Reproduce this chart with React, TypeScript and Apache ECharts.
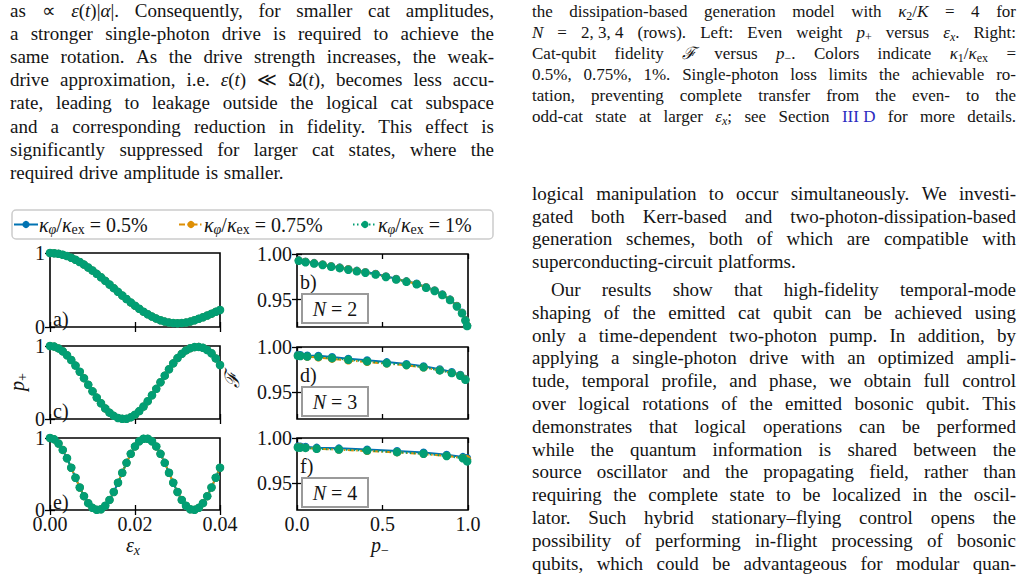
import React, { useEffect, useRef } from "react";
import * as echarts from "echarts";

// ---------- data ----------
const KAPPA_LABELS = ["0.5%", "0.75%", "1%"];
const SERIES_NAMES = KAPPA_LABELS.map((v) => `κφ/κex = ${v}`);
const COLORS = ["#0173b2", "#de8f05", "#029e73"];

// drive amplitude grid (left column)
const epsX = [
  0, 0.001, 0.002, 0.003, 0.004, 0.005, 0.006, 0.007, 0.008, 0.009, 0.01, 0.011, 0.012, 0.013,
  0.014, 0.015, 0.016, 0.017, 0.018, 0.019, 0.02, 0.021, 0.022, 0.023, 0.024, 0.025, 0.026,
  0.027, 0.028, 0.029, 0.03, 0.031, 0.032, 0.033, 0.034, 0.035, 0.036, 0.037, 0.038, 0.039, 0.04,
];

// even weight p+ for N = 2, 3, 4
const pPlusN2 = [
  1.0, 0.997, 0.99, 0.977, 0.959, 0.936, 0.909, 0.878, 0.843, 0.804, 0.763, 0.718, 0.672, 0.624,
  0.575, 0.525, 0.475, 0.426, 0.378, 0.332, 0.288, 0.246, 0.207, 0.172, 0.141, 0.114, 0.091,
  0.073, 0.06, 0.053, 0.05, 0.053, 0.06, 0.073, 0.091, 0.112, 0.132, 0.155, 0.18, 0.205, 0.23,
];
const pPlusN3 = [
  1.0, 0.992, 0.967, 0.928, 0.874, 0.808, 0.732, 0.648, 0.559, 0.469, 0.379, 0.293, 0.215, 0.145,
  0.087, 0.043, 0.014, 0.002, 0.004, 0.023, 0.059, 0.108, 0.171, 0.244, 0.326, 0.413, 0.504,
  0.594, 0.681, 0.762, 0.834, 0.893, 0.94, 0.97, 0.985, 0.988, 0.975, 0.945, 0.9, 0.83, 0.74,
];
const pPlusN4 = [
  1.0, 0.981, 0.924, 0.835, 0.719, 0.587, 0.448, 0.313, 0.192, 0.095, 0.03, 0.002, 0.011, 0.059,
  0.14, 0.25, 0.379, 0.517, 0.655, 0.78, 0.883, 0.955, 0.99, 0.99, 0.955, 0.883, 0.78, 0.655,
  0.517, 0.379, 0.25, 0.14, 0.059, 0.011, 0.002, 0.03, 0.095, 0.192, 0.313, 0.448, 0.587,
];

// fidelity F versus p− : [p−, F]  (blue 0.5%, orange 0.75%, green 1%)
const fidN2Blue = [
  [0.01, 0.9933], [0.05, 0.9918], [0.1, 0.9903], [0.15, 0.9888], [0.2, 0.9868], [0.25, 0.9853],
  [0.3, 0.9836], [0.35, 0.9818], [0.4, 0.9803], [0.46, 0.9783], [0.52, 0.9756], [0.58, 0.9728],
  [0.64, 0.9703], [0.7, 0.9676], [0.755, 0.9638], [0.805, 0.9603], [0.85, 0.9558], [0.895, 0.9503],
  [0.935, 0.9433], [0.965, 0.9358], [0.985, 0.9278], [0.995, 0.9218],
];
const fidN2Orange = [
  [0.01, 0.9929], [0.05, 0.9914], [0.1, 0.9899], [0.15, 0.9884], [0.2, 0.9864], [0.25, 0.9849],
  [0.3, 0.9832], [0.35, 0.9814], [0.4, 0.9799], [0.46, 0.9779], [0.52, 0.9752], [0.58, 0.9724],
  [0.64, 0.9699], [0.7, 0.9672], [0.755, 0.9634], [0.805, 0.9599], [0.85, 0.9554], [0.895, 0.9499],
  [0.935, 0.9429], [0.965, 0.9354], [0.985, 0.9274], [0.995, 0.9214],
];
const fidN2Green = [
  [0.01, 0.9925], [0.05, 0.991], [0.1, 0.9895], [0.15, 0.988], [0.2, 0.986], [0.25, 0.9845],
  [0.3, 0.9828], [0.35, 0.981], [0.4, 0.9795], [0.46, 0.9775], [0.52, 0.9748], [0.58, 0.972],
  [0.64, 0.9695], [0.7, 0.9668], [0.755, 0.963], [0.805, 0.9595], [0.85, 0.955], [0.895, 0.9495],
  [0.935, 0.9425], [0.965, 0.935], [0.985, 0.927], [0.995, 0.921],
];
const fidN3Blue = [
  [0.005, 0.9914], [0.02, 0.9912], [0.06, 0.9906], [0.125, 0.9902], [0.205, 0.9888], [0.3, 0.987],
  [0.41, 0.9852], [0.525, 0.9832], [0.64, 0.9812], [0.74, 0.9787], [0.835, 0.9752], [0.905, 0.9722],
  [0.955, 0.9692], [0.985, 0.9647],
];
const fidN3Orange = [
  [0.005, 0.9904], [0.02, 0.99], [0.06, 0.989], [0.125, 0.9884], [0.205, 0.9868], [0.3, 0.985],
  [0.41, 0.9834], [0.525, 0.9815], [0.64, 0.9796], [0.74, 0.9772], [0.835, 0.974], [0.905, 0.9712],
  [0.955, 0.9684], [0.985, 0.964],
];
const fidN3Green = [
  [0.005, 0.9902], [0.02, 0.99], [0.06, 0.9894], [0.125, 0.989], [0.205, 0.9876], [0.3, 0.9858],
  [0.41, 0.984], [0.525, 0.982], [0.64, 0.98], [0.74, 0.9775], [0.835, 0.974], [0.905, 0.971],
  [0.955, 0.968], [0.985, 0.9635],
];
const fidN4Blue = [
  [0.005, 0.9907], [0.02, 0.9905], [0.05, 0.9902], [0.115, 0.9893], [0.245, 0.9885], [0.41, 0.9872],
  [0.585, 0.9855], [0.74, 0.9838], [0.875, 0.9814], [0.97, 0.979], [0.995, 0.9778],
];
const fidN4Orange = [
  [0.005, 0.9898], [0.02, 0.9896], [0.05, 0.9892], [0.115, 0.9881], [0.245, 0.987], [0.41, 0.9855],
  [0.585, 0.984], [0.74, 0.9822], [0.875, 0.98], [0.97, 0.9778], [0.995, 0.9765],
];
const fidN4Green = [
  [0.005, 0.9895], [0.02, 0.9893], [0.05, 0.989], [0.115, 0.988], [0.245, 0.9872], [0.41, 0.986],
  [0.585, 0.9843], [0.74, 0.9825], [0.875, 0.98], [0.97, 0.9775], [0.995, 0.974],
];

const xTicksLeft = [0, 0.02, 0.04];
const xTicksRight = [0, 0.5, 1];
const yTicksLeft = [0, 1];
const yTicksRight = [0.95, 1.0];

// ---------- page text ----------
// markup: {i:..} italic, {s:..} subscript, {j:..} italic subscript, {b:..} link colour
const LEFT_TEXT = [
  "as ∝ {i:ε}({i:t})|{i:α}|. Consequently, for smaller cat amplitudes,",
  "a stronger single-photon drive is required to achieve the",
  "same rotation. As the drive strength increases, the weak-",
  "drive approximation, i.e. {i:ε}({i:t}) ≪ Ω({i:t}), becomes less accu-",
  "rate, leading to leakage outside the logical cat subspace",
  "and a corresponding reduction in fidelity. This effect is",
  "significantly suppressed for larger cat states, where the",
  "required drive amplitude is smaller.",
];
const CAPTION_TEXT = [
  "the dissipation-based generation model with {i:κ}{s:2}/{i:K} = 4 for",
  "{i:N} = 2,\u00a03,\u00a04 (rows). Left: Even weight {i:p}{s:+} versus {i:ε}{j:x}. Right:",
  "Cat-qubit fidelity {i:ℱ} versus {i:p}{s:−}. Colors indicate {i:κ}{s:1}/{i:κ}{s:ex} =",
  "0.5%, 0.75%, 1%. Single-photon loss limits the achievable ro-",
  "tation, preventing complete transfer from the even- to the",
  "odd-cat state at larger {i:ε}{j:x}; see Section {b:III\u00a0D} for more details.",
];
const RIGHT_PARA1 = [
  "logical manipulation to occur simultaneously. We investi-",
  "gated both Kerr-based and two-photon-dissipation-based",
  "generation schemes, both of which are compatible with",
  "superconducting-circuit platforms.",
];
const RIGHT_PARA2 = [
  "Our results show that high-fidelity temporal-mode",
  "shaping of the emitted cat qubit can be achieved using",
  "only a time-dependent two-photon pump. In addition, by",
  "applying a single-photon drive with an optimized ampli-",
  "tude, temporal profile, and phase, we obtain full control",
  "over logical rotations of the emitted bosonic qubit. This",
  "demonstrates that logical operations can be performed",
  "while the quantum information is shared between the",
  "source oscillator and the propagating field, rather than",
  "requiring the complete state to be localized in the oscil-",
  "lator. Such hybrid stationary–flying control opens the",
  "possibility of performing in-flight processing of bosonic",
  "qubits, which could be advantageous for modular quan-",
];

// ---------- styling ----------
const SERIF = "Liberation Serif";
const INK = "#141414";
const LINK = "#2b2bbf";
const LINE_TYPES: any[] = ["solid", [6, 2.5, 1.5, 2.5], [1.5, 2.5]];

type Seg = { st: string; t: string };

function splitWords(line: string): string[] {
  const out: string[] = [];
  let cur = "";
  let depth = 0;
  for (const ch of line) {
    if (ch === "{") depth++;
    if (ch === "}") depth--;
    if (ch === " " && depth === 0) {
      if (cur) out.push(cur);
      cur = "";
    } else cur += ch;
  }
  if (cur) out.push(cur);
  return out;
}

function parseWord(w: string): Seg[] {
  const segs: Seg[] = [];
  const re = /\{([a-z]):([^}]*)\}|([^{]+)/g;
  let m: RegExpExecArray | null;
  while ((m = re.exec(w))) {
    if (m[1]) segs.push({ st: m[1], t: m[2] });
    else segs.push({ st: "n", t: m[3] });
  }
  return segs;
}

function segFont(st: string, size: number) {
  const sub = st === "s" || st === "j";
  return {
    fontSize: sub ? Math.round(size * 0.7) : size,
    fontStyle: st === "i" || st === "j" ? "italic" : "normal",
  };
}

function measureSeg(ctx: CanvasRenderingContext2D, s: Seg, size: number) {
  const f = segFont(s.st, size);
  ctx.font = `${f.fontStyle} ${f.fontSize}px '${SERIF}'`;
  return ctx.measureText(s.t).width;
}

// plain text elements, one per styled segment, laid out left to right from (x, y)
function segElements(ctx: CanvasRenderingContext2D, segs: Seg[], x: number, y: number, size: number, z = 0) {
  const els: any[] = [];
  let cx = x;
  segs.forEach((s) => {
    const f = segFont(s.st, size);
    const sub = s.st === "s" || s.st === "j";
    els.push({
      type: "text",
      x: cx,
      y: sub ? y + size * 0.27 : y,
      z,
      silent: true,
      style: {
        text: s.t,
        fontSize: f.fontSize,
        fontStyle: f.fontStyle,
        fontFamily: SERIF,
        fill: s.st === "b" ? LINK : INK,
        align: "left",
        verticalAlign: "middle",
      },
    });
    cx += measureSeg(ctx, s, size);
  });
  return { els, width: cx - x };
}

function mathWidth(ctx: CanvasRenderingContext2D, markup: string, size: number) {
  return parseWord(markup).reduce((a, s) => a + measureSeg(ctx, s, size), 0);
}

// centred formula, optionally rotated about its centre
function mathLabel(ctx: CanvasRenderingContext2D, markup: string, x: number, y: number, size: number, rotation = 0, z = 0) {
  const w = mathWidth(ctx, markup, size);
  const { els } = segElements(ctx, parseWord(markup), -w / 2, 0, size, z);
  return { type: "group", x, y, rotation, z, children: els };
}

// justified paragraph built from word-level text elements
function paragraph(
  ctx: CanvasRenderingContext2D,
  lines: string[],
  opts: { x: number; y: number; step: number; width: number; size: number; indent?: number; lastRagged?: boolean }
) {
  const els: any[] = [];
  lines.forEach((line, li) => {
    const words = splitWords(line).map(parseWord);
    const widths = words.map((segs) => segs.reduce((acc, s) => acc + measureSeg(ctx, s, opts.size), 0));
    const x0 = opts.x + (li === 0 && opts.indent ? opts.indent : 0);
    const avail = opts.width - (x0 - opts.x);
    const total = widths.reduce((a, b) => a + b, 0);
    const ragged = opts.lastRagged && li === lines.length - 1;
    let gap = ragged || words.length < 2 ? opts.size * 0.3 : (avail - total) / (words.length - 1);
    if (gap < opts.size * 0.12) gap = opts.size * 0.12;
    let x = x0;
    const y = opts.y + li * opts.step;
    words.forEach((segs, wi) => {
      els.push(...segElements(ctx, segs, x, y, opts.size).els);
      x += widths[wi] + gap;
    });
  });
  return els;
}

// ---------- figure panels ----------
type Panel = {
  tag: string;
  side: "left" | "right";
  rect: [number, number, number, number];
  bottomRow: boolean;
  left?: number[];
  right?: number[][][];
  n: number;
};

const PANELS: Panel[] = [
  { tag: "a)", side: "left", rect: [50, 253, 170, 74], bottomRow: false, left: pPlusN2, n: 2 },
  { tag: "b)", side: "right", rect: [297, 254, 171, 73], bottomRow: false, right: [fidN2Blue, fidN2Orange, fidN2Green], n: 2 },
  { tag: "c)", side: "left", rect: [50, 346, 170, 73], bottomRow: false, left: pPlusN3, n: 3 },
  { tag: "d)", side: "right", rect: [297, 347, 171, 72], bottomRow: false, right: [fidN3Blue, fidN3Orange, fidN3Green], n: 3 },
  { tag: "e)", side: "left", rect: [50, 438, 170, 72], bottomRow: true, left: pPlusN4, n: 4 },
  { tag: "f)", side: "right", rect: [297, 438, 171, 72], bottomRow: true, right: [fidN4Blue, fidN4Orange, fidN4Green], n: 4 },
];

const TICK_FONT = { fontSize: 20, fontFamily: SERIF, color: INK };
const tickStyle = { show: true, inside: true, length: 5, lineStyle: { color: "#000", width: 1.3 } };

function buildOption() {
  const canvas = document.createElement("canvas");
  const ctx = canvas.getContext("2d") as CanvasRenderingContext2D;

  const grid: any[] = [];
  const xAxis: any[] = [];
  const yAxis: any[] = [];
  const series: any[] = [];
  const graphic: any[] = [];

  PANELS.forEach((p, i) => {
    const [l, t, w, h] = p.rect;
    grid.push({ left: l, top: t, width: w, height: h, show: true, borderColor: "#000", borderWidth: 1.6, backgroundColor: "transparent" });

    const isLeft = p.side === "left";
    const xRange = isLeft ? { min: 0, max: 0.04, interval: 0.02 } : { min: 0, max: 1, interval: 0.5 };
    const xTicks = isLeft ? xTicksLeft : xTicksRight;
    const yTicks = isLeft ? yTicksLeft : yTicksRight;
    const yRange = isLeft ? { min: 0, max: 1 } : { min: 0.92, max: 1 };
    const xFmt = (v: number) => (isLeft ? v.toFixed(2) : v.toFixed(1));
    const yFmt = (v: number) => (isLeft ? String(Math.round(v)) : v.toFixed(2));

    ["bottom", "top"].forEach((pos) => {
      xAxis.push({
        gridIndex: i,
        type: "value",
        position: pos,
        ...xRange,
        axisLine: { show: false },
        splitLine: { show: false },
        axisTick: { ...tickStyle, customValues: xTicks },
        axisLabel: {
          show: pos === "bottom" && p.bottomRow,
          customValues: xTicks,
          formatter: xFmt,
          margin: 4,
          ...TICK_FONT,
        },
      });
    });
    ["left", "right"].forEach((pos) => {
      yAxis.push({
        gridIndex: i,
        type: "value",
        position: pos,
        ...yRange,
        axisLine: { show: false },
        splitLine: { show: false },
        axisTick: { ...tickStyle, customValues: yTicks },
        axisLabel: { show: pos === "left", customValues: yTicks, formatter: yFmt, margin: 5, ...TICK_FONT },
      });
    });

    for (let k = 0; k < 3; k++) {
      const data = isLeft
        ? epsX.map((e, j) => [e, (p.left as number[])[j]])
        : (p.right as number[][][])[k];
      series.push({
        name: SERIES_NAMES[k],
        type: "line",
        xAxisIndex: 2 * i,
        yAxisIndex: 2 * i,
        data,
        symbol: "circle",
        symbolSize: k === 2 ? 8.5 : 8,
        showSymbol: true,
        showAllSymbol: true,
        clip: true,
        silent: true,
        z: 2 + k,
        lineStyle: { color: COLORS[k], width: 2, type: LINE_TYPES[k] },
        itemStyle: { color: COLORS[k] },
      });
    }

    // panel tag
    const tagY = isLeft ? t + h - 8 : t + 28;
    graphic.push({
      type: "text",
      x: isLeft ? 53 : 300,
      y: tagY,
      z: 20,
      silent: true,
      style: { text: p.tag, fontSize: 20, fontFamily: SERIF, fill: INK, align: "left", verticalAlign: "middle" },
    });
    if (!isLeft) {
      graphic.push({
        type: "rect",
        z: 20,
        silent: true,
        shape: { x: 302, y: t + 40, width: 66, height: 29 },
        style: { fill: "#fff", stroke: "#9a9a9a", lineWidth: 2 },
      });
      graphic.push(mathLabel(ctx, `{i:N} = ${p.n}`, 335, t + 55, 20, 0, 21));
    }
  });

  // axis titles
  graphic.push(mathLabel(ctx, "{i:ε}{j:x}", 133, 545, 20));
  graphic.push(mathLabel(ctx, "{i:p}{s:−}", 380, 545, 20));
  graphic.push(mathLabel(ctx, "{i:p}{s:+}", 17, 382, 20, Math.PI / 2));
  graphic.push(mathLabel(ctx, "{i:ℱ}", 232, 380, 20, Math.PI / 2));

  // legend frame and labels (legend icons come from the legend component)
  graphic.push({
    type: "rect",
    silent: true,
    shape: { x: 12, y: 210, width: 481, height: 29, r: 4 },
    style: { fill: "none", stroke: "#cccccc", lineWidth: 1.5 },
  });
  const legendLefts = [13, 178, 352];
  KAPPA_LABELS.forEach((v, k) => {
    graphic.push(
      ...segElements(ctx, parseWord(`{i:κ}{j:φ}/{i:κ}{s:ex}\u00a0=\u00a0${v}`), legendLefts[k] + 26, 224.5, 20).els
    );
  });

  // page text
  graphic.push(...paragraph(ctx, LEFT_TEXT, { x: 10, y: 10, step: 23.2, width: 484, size: 19, lastRagged: true }));
  graphic.push(...paragraph(ctx, CAPTION_TEXT, { x: 532, y: 11, step: 21, width: 484, size: 17 }));
  graphic.push(...paragraph(ctx, RIGHT_PARA1, { x: 532, y: 193.5, step: 22.6, width: 484, size: 19, lastRagged: true }));
  graphic.push(...paragraph(ctx, RIGHT_PARA2, { x: 532, y: 289.5, step: 22.8, width: 484, size: 19, indent: 19 }));

  const legend = SERIES_NAMES.map((name, k) => ({
    data: [name],
    left: legendLefts[k],
    top: 220,
    padding: 0,
    itemWidth: 24,
    itemHeight: 9,
    selectedMode: false,
    formatter: () => "",
    textStyle: { fontSize: 1 },
  }));

  return {
    animation: false,
    backgroundColor: "#ffffff",
    grid,
    xAxis,
    yAxis,
    series,
    legend,
    graphic: { elements: graphic },
  };
}

export default function App() {
  const ref = useRef<HTMLDivElement>(null);
  useEffect(() => {
    if (!ref.current) return;
    const chart = echarts.init(ref.current, undefined, { renderer: "svg" });
    chart.setOption(buildOption());
    return () => chart.dispose();
  }, []);
  return (
    <div
      ref={ref}
      style={{ position: "fixed", left: 0, top: 0, width: 1028, height: 583, background: "#fff" }}
    />
  );
}
